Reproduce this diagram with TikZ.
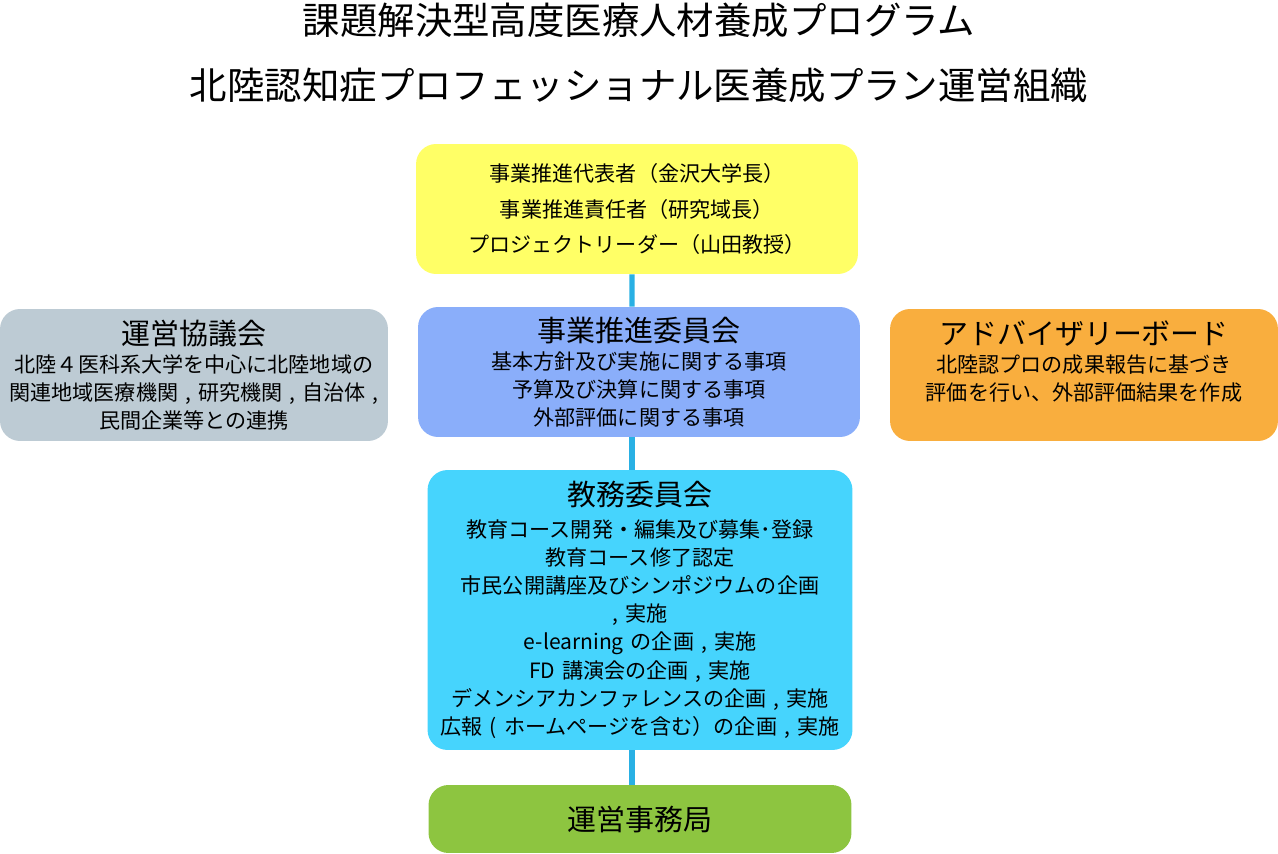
\documentclass[tikz,border=0pt]{standalone}
\usepackage{fontspec}
\setmainfont{Noto Sans CJK JP}
\usetikzlibrary{positioning}
\usetikzlibrary{backgrounds}
\definecolor{ctop}{HTML}{FFFF66}
\definecolor{cboard}{HTML}{8AAEFA}
\definecolor{ccouncil}{HTML}{BDCBD4}
\definecolor{cadvice}{HTML}{F9AE3E}
\definecolor{cedu}{HTML}{46D4FD}
\definecolor{coffice}{HTML}{8DC540}
\definecolor{cline}{HTML}{29B0E4}

\begin{document}
\begin{tikzpicture}[x=0.02cm,y=-0.02cm,
  box/.style={rounded corners=0.4cm, inner sep=0pt, align=center, font=\fontsize{12}{16}\selectfont},
  link/.style={cline, line width=3pt},
]
  \useasboundingbox (0,0) rectangle (1278,854);

  % title
  \node (title1) at (639,20) {\fontsize{21.3}{24}\selectfont 課題解決型高度医療人材養成プログラム};
  \node (title2) at (639,85) {\fontsize{21.3}{24}\selectfont 北陸認知症プロフェッショナル医養成プラン運営組織};

  % boxes
  \node[box, fill=ctop, text width=8.7cm, minimum width=8.84cm, minimum height=2.6cm] (leader) at (637,209)
    {事業推進代表者（金沢大学長）\\[4pt]事業推進責任者（研究域長）\\[4pt]プロジェクトリーダー（山田教授）};

  \node[box, fill=cboard, text width=8.7cm, minimum width=8.84cm, minimum height=2.6cm] (board) at (639,372)
    {{\fontsize{16.5}{20}\selectfont 事業推進委員会}\\基本方針及び実施に関する事項\\予算及び決算に関する事項\\外部評価に関する事項};

  \node[box, fill=ccouncil, text width=7.7cm, minimum width=7.76cm, minimum height=2.64cm] (council) at (194,375)
    {{\fontsize{16.5}{20}\selectfont 運営協議会}\\北陸４医科系大学を中心に北陸地域の\\関連地域医療機関 , 研究機関 , 自治体 ,\\民間企業等との連携};

  \node[box, fill=cadvice, text width=7.7cm, minimum width=7.76cm, minimum height=2.64cm] (advisory) at (1084,375)
    {{\fontsize{16.5}{20}\selectfont アドバイザリーボード}\\北陸認プロの成果報告に基づき\\評価を行い、外部評価結果を作成\\\mbox{}};

  \node[box, fill=cedu, text width=8.4cm, minimum width=8.5cm, minimum height=5.6cm] (edu) at (640,610)
    {{\fontsize{16.5}{26}\selectfont 教務委員会}\\[2pt]教育コース開発・編集及び募集･登録\\教育コース修了認定\\市民公開講座及びシンポジウムの企画 , 実施\\e-learning の企画 , 実施\\FD 講演会の企画 , 実施\\デメンシアカンファレンスの企画 , 実施\\広報 ( ホームページを含む）の企画 , 実施};

  \node[box, fill=coffice, minimum width=8.46cm, minimum height=1.36cm] (office) at (640,819)
    {\fontsize{16.5}{20}\selectfont 運営事務局};

  % connectors
  \begin{scope}[on background layer]
    \draw[link] ([xshift=-0.1cm]leader.south) -- ([xshift=-0.14cm]board.north);
    \draw[link] ([xshift=-0.14cm]board.south) -- ([xshift=-0.16cm]edu.north);
    \draw[link] ([xshift=-0.16cm]edu.south) -- ([xshift=-0.16cm]office.north);
  \end{scope}
\end{tikzpicture}
\end{document}
